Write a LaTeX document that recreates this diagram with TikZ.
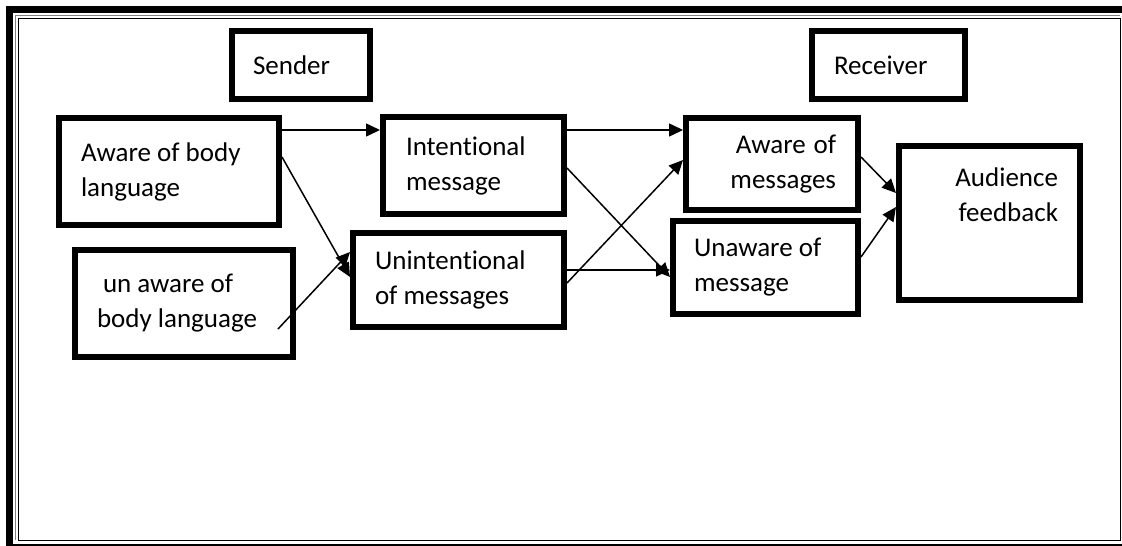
\documentclass[tikz,border=0pt]{standalone}
\usepackage{fontspec}
\setmainfont{Carlito}[Ligatures=NoCommon]
\usetikzlibrary{positioning, calc, arrows.meta}
\tikzstyle{Box} = [
draw,
rectangle,
line width=6pt,
inner sep=0pt,
font=\fontsize{27}{35}\selectfont,
execute at begin node={\spaceskip=0pt\xspaceskip=0pt\relax}]
\tikzstyle{Arrow} = [
line width=1.5pt,
-{Triangle[length=14pt,width=13pt]}]
\tikzstyle{Frame} = [line width=7pt]

\begin{document}
\begin{tikzpicture}[x=1pt, y=-1pt]
    \useasboundingbox (0,0) rectangle (1122,546);
    % page border
    \draw[Frame] (9.5,546) -- (9.5,9.5) -- (1122,9.5);
    \draw[gray, line width=1pt] (15.5,540) -- (15.5,15.5) -- (1120,15.5);
    \draw[line width=1pt] (18,18) rectangle (1120,540);
    \draw[line width=1.2pt] (13,545) -- (1122,545);

    \node [Box, minimum width=138pt, minimum height=68pt, text width=96pt, align=left] (1) at (301,65) {Sender};
    \node [Box, minimum width=153pt, minimum height=68pt, text width=109pt, align=left] (2) at (888.5,65) {Receiver};
    \node [Box, minimum width=220pt, minimum height=107pt, text width=176pt, align=left] (3) at (169,171.5) {Aware of body\\language};
    \node [Box, minimum width=218pt, minimum height=107pt, text width=174pt, align=left] (4) at (184,303.5) {\hspace*{6pt}un aware of\\body language};
    \node [Box, minimum width=181pt, minimum height=97pt, text width=135pt, align=left] (5) at (473.5,165.5) {Intentional\\message};
    \node [Box, minimum width=211pt, minimum height=94pt, text width=167pt, align=left] (6) at (458.5,280) {Unintentional\\of messages};
    \node [Box, minimum width=172pt, minimum height=92pt, text width=128pt, align=right] (7) at (772,164) {Aware of\\messages};
    \node [Box, minimum width=185pt, minimum height=93pt, text width=143pt, align=left] (8) at (765.5,267.5) {Unaware of\\message};
    \node [Box, minimum width=181pt, minimum height=154pt, text width=137pt, align=right, text depth=92pt] (9) at (989.5,223) {Audience\\feedback};

    \draw[Arrow] ([yshift=41.5pt]3.east)--([yshift=35.5pt]5.west);
    \draw[Arrow] ([yshift=14.5pt]3.east)--([yshift=3pt]6.west);
    \draw[Arrow] ([xshift=-18pt, yshift=-25.5pt]4.east)--([yshift=28pt]6.west);
    \draw[Arrow] ([yshift=35.5pt]5.east)--([yshift=34pt]7.west);
    \draw[Arrow] ([yshift=-2.5pt]5.east)--([yshift=-9.5pt]8.west);
    \draw[Arrow] ([yshift=10pt]6.east)--([yshift=-2.5pt]8.west);
    \draw[Arrow] ([yshift=-3pt]6.east)--([yshift=4pt]7.west);
    \draw[Arrow] ([yshift=7pt]7.east)--([yshift=30pt]9.west);
    \draw[Arrow] ([yshift=10.5pt]8.east)--([yshift=16pt]9.west);
\end{tikzpicture}
\end{document}
